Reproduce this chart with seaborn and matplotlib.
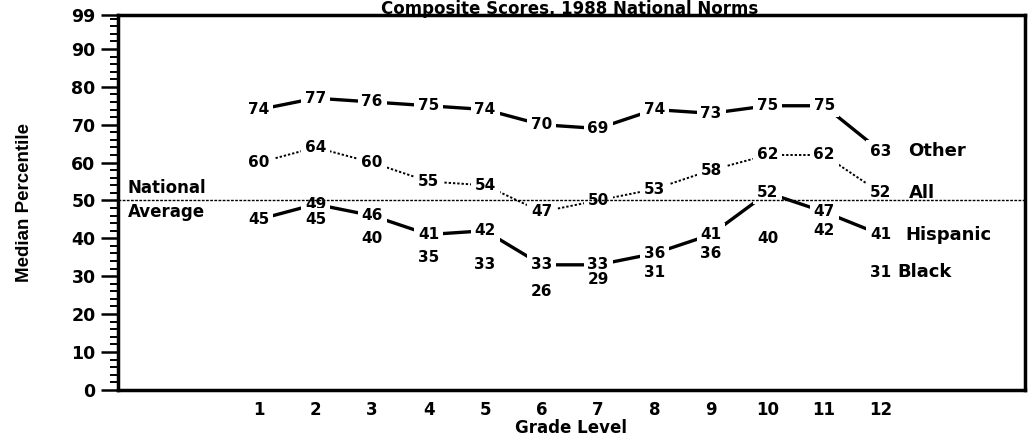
import matplotlib
matplotlib.use('Agg')
import numpy as np
import pandas as pd
import matplotlib.pyplot as plt
from matplotlib.ticker import MultipleLocator
import seaborn as sns

# Median percentile by grade, composite scores (1988 national norms)
grades = list(range(1, 13))
other = [74, 77, 76, 75, 74, 70, 69, 74, 73, 75, 75, 63]
all_students = [60, 64, 60, 55, 54, 47, 50, 53, 58, 62, 62, 52]
hispanic = [45, 49, 46, 41, 42, 33, 33, 36, 41, 52, 47, 41]
black = [np.nan, 45, 40, 35, 33, 26, 29, 31, 36, 40, 42, 31]
national_average = 50

y_ticks = [0, 10, 20, 30, 40, 50, 60, 70, 80, 90, 99]

sns.set_style('ticks')
plt.rcParams['font.family'] = ['DejaVu Sans']
plt.rcParams.update({'text.color': 'black', 'axes.labelcolor': 'black',
                     'xtick.color': 'black', 'ytick.color': 'black'})

series = {'Other': other, 'All': all_students, 'Hispanic': hispanic, 'Black': black}
df = pd.DataFrame({
    'grade': grades * len(series),
    'score': other + all_students + hispanic + black,
    'group': [g for g in series for _ in grades],
})

# only three groups are joined by lines, Black is just labelled
line_styles = {
    'Other': ('-', 2.4),
    'All': ((0, (1.2, 1.0)), 1.4),
    'Hispanic': ('-', 2.4),
}
name_offset = {'Other': 20, 'All': 20, 'Hispanic': 18, 'Black': 12}

fig, ax = plt.subplots(figsize=(10.33, 4.37), dpi=100)
fig.subplots_adjust(left=0.114, right=0.992, bottom=0.108, top=0.966)

for name, (ls, lw) in line_styles.items():
    sns.lineplot(data=df[df['group'] == name], x='grade', y='score',
                 color='black', linewidth=lw, linestyle=ls, ax=ax, zorder=2)

ax.axhline(national_average, color='black', lw=1.0, ls=(0, (2, 1)), zorder=4)

# value labels sit on the points, white boxes leave the gaps in the lines
for name in series:
    sub = df[(df['group'] == name) & df['score'].notna()]
    for g, s in zip(sub['grade'], sub['score']):
        ax.text(g, s, f'{int(s)}', ha='center', va='center', fontsize=11,
                fontweight='bold', zorder=3,
                bbox=dict(facecolor='white', edgecolor='none', pad=2.8))
    last = sub.iloc[-1]
    ax.annotate(name, (last['grade'], last['score']), xytext=(name_offset[name], 0),
                textcoords='offset points', ha='left', va='center',
                fontsize=13, fontweight='bold', zorder=5)

ax.text(0.011, national_average + 1.0, 'National', transform=ax.get_yaxis_transform(),
        ha='left', va='bottom', fontsize=12, fontweight='bold')
ax.text(0.011, national_average - 0.8, 'Average', transform=ax.get_yaxis_transform(),
        ha='left', va='top', fontsize=12, fontweight='bold')

ax.set_xlim(-1.5, 14.55)
ax.set_ylim(0, 99)
ax.set_xticks(grades)
ax.set_yticks(y_ticks)
ax.yaxis.set_minor_locator(MultipleLocator(2))
ax.tick_params(axis='y', which='major', length=12, width=1.8, direction='out',
               labelsize=12.5, pad=4)
ax.tick_params(axis='y', which='minor', length=6, width=1.4, direction='out')
ax.tick_params(axis='x', length=0, pad=8, labelsize=12)
for lbl in ax.get_xticklabels() + ax.get_yticklabels():
    lbl.set_fontweight('bold')

for sp in ax.spines.values():
    sp.set_linewidth(2.5)
    sp.set_color('black')

ax.set_xlabel('Grade Level', fontsize=12, fontweight='bold', labelpad=0)
ax.set_ylabel('Median Percentile', fontsize=13.5, fontweight='bold',
              family=['Liberation Sans Narrow', 'Liberation Sans'])
ax.yaxis.set_label_coords(-0.094, 0.5)

fig.text(0.551, 0.999, 'Composite Scores, 1988 National Norms', ha='center',
         va='top', fontsize=12, fontweight='bold')

plt.savefig('out.png', dpi=100)
plt.close()
